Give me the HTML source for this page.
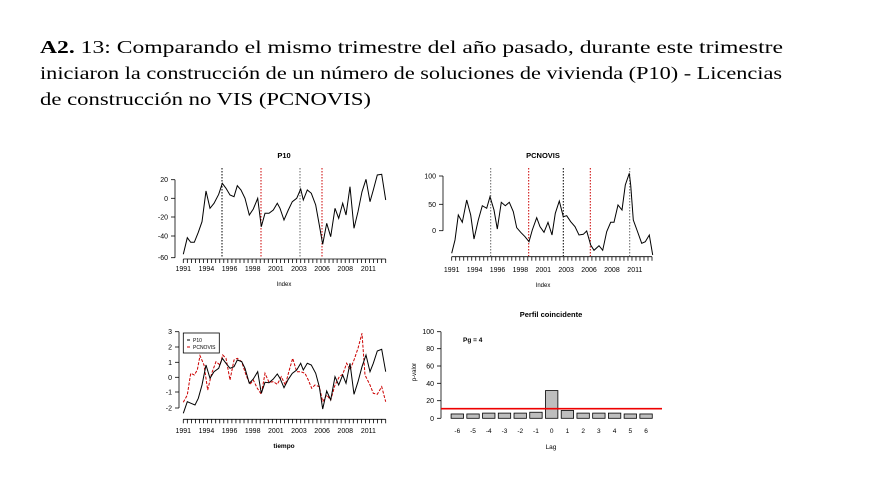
<!DOCTYPE html>
<html><head><meta charset="utf-8"><style>
html,body{margin:0;padding:0;background:#fff;}
svg{display:block;}
</style></head><body>
<svg id="s" width="888" height="492" xmlns="http://www.w3.org/2000/svg" font-family="Liberation Sans, sans-serif">
<g font-family="Liberation Serif, serif" font-size="18" fill="#000">
<text x="40" y="53" textLength="743" lengthAdjust="spacingAndGlyphs"><tspan font-weight="bold">A2.</tspan> 13: Comparando el mismo trimestre del año pasado, durante este trimestre</text>
<text x="40" y="79" textLength="742" lengthAdjust="spacingAndGlyphs">iniciaron la construcción de un número de soluciones de vivienda (P10) - Licencias</text>
<text x="40" y="105" textLength="331" lengthAdjust="spacingAndGlyphs">de construcción no VIS (PCNOVIS)</text>
</g>
</svg>
<script>
var s=document.getElementById('s'),NS='http://www.w3.org/2000/svg';
function el(t,a,txt){var e=document.createElementNS(NS,t);for(var k in a)e.setAttribute(k,a[k]);if(txt!==undefined)e.textContent=txt;s.appendChild(e);return e;}
function pl(pts,ox,oy,col,dash,w){var d=pts.map(function(p,i){return (i?'L':'M')+(ox+p[0]/3).toFixed(1)+' '+(oy+p[1]/3).toFixed(1)}).join('');var a={d:d,fill:'none',stroke:col,'stroke-width':w||1};if(dash)a['stroke-dasharray']=dash;el('path',a);}
function txt(x,y,t,sz,anc,bold,extra){var a={x:x,y:y,'font-size':sz,'text-anchor':anc||'middle'};if(bold)a['font-weight']='bold';for(var k in extra||{})a[k]=extra[k];el('text',a,t);}
function yaxis(x,ys,labels,sz){el('line',{x1:x,y1:ys[0],x2:x,y2:ys[ys.length-1],stroke:'#000','stroke-width':0.8});ys.forEach(function(y,i){el('line',{x1:x-4,y1:y,x2:x,y2:y,stroke:'#000','stroke-width':0.8});txt(x-7,y+2.5,labels[i],7,'end');});}
function xaxis(x0,x1,y,ly){el('line',{x1:x0,y1:y,x2:x1,y2:y,stroke:'#000','stroke-width':0.8});for(var x=x0;x<=x1+0.1;x+=(x1-x0)/50)el('line',{x1:x,y1:y,x2:x,y2:y+4,stroke:'#000','stroke-width':0.8});
var yr=['1991','1994','1996','1998','2001','2003','2006','2008','2011'];yr.forEach(function(t,i){txt(x0+i*(x1-x0)/8.75,ly,t,7);});}
function vline(x,y0,y1,col){el('line',{x1:x,y1:y0,x2:x,y2:y1,stroke:col,'stroke-width':1,'stroke-dasharray':'1.5,1.5'});}
// Plot 1
txt(284,158,'P10',7.5,'middle',true);
yaxis(175,[179.7,198.3,217,236,257.7],['20','0','-20','-40','-60']);
xaxis(183.3,385.7,259,271);
txt(284,286,'Index',6);
vline(222,168,258,'#000');vline(261,168,258,'#c00');vline(300,168,258,'#666');vline(322,168,258,'#c00');
pl([[130,328],[142,278],[152,292],[163,292],[175,262],[186,230],[198,138],[210,190],[222,175],[236,148],[247,115],[258,130],[270,150],[282,155],[292,122],[303,135],[315,160],[328,210],[340,192],[353,160],[364,245],[375,205],[387,205],[400,195],[412,175],[420,190],[432,225],[445,195],[457,170],[470,160],[482,132],[490,165],[502,135],[514,145],[527,180],[538,240],[548,298],[560,235],[572,275],[585,190],[596,220],[608,175],[618,210],[630,125],[642,250],[654,200],[666,140],[678,103],[690,170],[700,135],[712,90],[725,88],[737,165]],140,145,'#000');
// Plot 2
txt(543,158,'PCNOVIS',7.5,'middle',true);
yaxis(443,[176,204.3,230.7],['100','50','0']);
xaxis(451.7,652,256.7,272);
txt(543,287,'Index',6);
vline(490.7,168,256,'#666');vline(528.7,168,256,'#c00');vline(563.3,168,256,'#000');vline(590.3,168,256,'#c00');vline(629.7,168,256,'#666');
pl([[155,325],[165,285],[175,210],[187,232],[200,165],[212,210],[222,282],[235,225],[247,182],[260,190],[270,155],[282,195],[292,252],[304,172],[316,182],[328,172],[340,200],[350,248],[362,262],[375,275],[387,290],[397,255],[410,218],[420,245],[432,262],[444,232],[456,270],[466,205],[478,168],[490,215],[500,212],[512,230],[525,245],[537,270],[550,268],[560,258],[572,300],[582,316],[597,302],[608,316],[620,260],[632,232],[642,232],[654,180],[666,195],[676,120],[688,85],[692,120],[700,225],[712,258],[725,295],[736,290],[748,270],[758,330]],400,145,'#000');
// Plot 3
yaxis(179,[331.7,347,362.3,377.3,392,408],['3','2','1','0','-1','-2']);
xaxis(183.3,385.7,419.3,433);
txt(284,448,'tiempo',6.5,'middle',true);
el('rect',{x:183.3,y:333,width:36,height:20,fill:'#fff',stroke:'#000','stroke-width':0.8});
el('line',{x1:187,y1:340,x2:190,y2:340,stroke:'#000'});el('line',{x1:187,y1:347,x2:190,y2:347,stroke:'#c00'});
txt(193,342,'P10',5,'start');txt(193,349,'PCNOVIS',5,'start');
pl([[130,292],[142,270],[152,205],[163,210],[172,195],[180,152],[192,180],[203,255],[215,205],[228,170],[240,180],[248,150],[258,160],[270,225],[282,165],[292,160],[305,170],[318,210],[330,238],[340,225],[352,250],[364,268],[375,205],[387,232],[400,230],[412,238],[424,215],[436,240],[448,195],[458,160],[470,200],[482,200],[495,205],[505,225],[515,250],[525,240],[538,245],[548,290],[560,270],[572,285],[585,240],[598,215],[608,208],[620,175],[630,195],[642,165],[654,130],[666,85],[675,210],[690,240],[700,265],[712,268],[725,245],[737,290]],140,305,'#c00','3,1.5');
pl([[130,325],[142,290],[153,295],[165,300],[175,280],[186,240],[198,180],[210,220],[222,200],[236,190],[247,160],[258,175],[270,190],[282,185],[292,165],[305,170],[315,190],[328,235],[340,222],[353,200],[364,265],[375,232],[387,233],[400,222],[412,207],[420,220],[432,248],[445,223],[457,205],[470,195],[482,175],[490,195],[502,175],[514,180],[527,205],[538,245],[548,312],[560,258],[572,285],[585,215],[596,240],[608,210],[618,235],[630,175],[642,268],[654,230],[666,185],[678,150],[690,200],[700,175],[712,138],[725,133],[737,200]],140,305,'#000');
// Plot 4
txt(551,317,'Perfil coincidente',7.5,'middle',true);
yaxis(441,[331.7,348.7,366,383.3,400.7,418.3],['100','80','60','40','20','0']);
txt(416,372,'p-valor',6,'middle',false,{transform:'rotate(-90 416 372)'});
txt(463,342,'Pg = 4',6.5,'start',true);
var h=[5,5,6,6,6,7,32,9,6,6,6,5,5],lab=['-6','-5','-4','-3','-2','-1','0','1','2','3','4','5','6'];
h.forEach(function(v,i){var cx=457.3+i*15.73,ph=v*0.866;el('rect',{x:cx-6.2,y:418.3-ph,width:12.4,height:ph,fill:'#bebebe',stroke:'#000','stroke-width':0.8});txt(cx,433,lab[i],6.5);});
el('line',{x1:441,y1:408.7,x2:662,y2:408.7,stroke:'#e00','stroke-width':1.6});
txt(551,449,'Lag',6.5);
</script>
</body></html>
